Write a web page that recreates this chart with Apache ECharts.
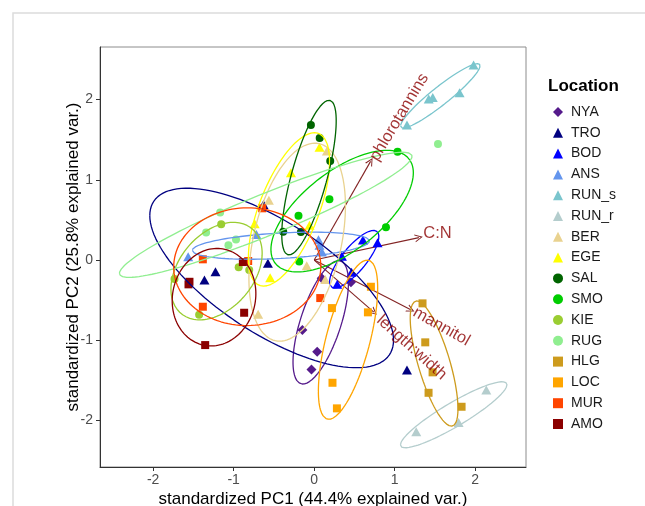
<!DOCTYPE html>
<html>
<head>
<meta charset="utf-8">
<script src="https://cdn.jsdelivr.net/npm/echarts@6/dist/echarts.min.js"></script>
<style>
  html, body { margin: 0; padding: 0; background: #fff; }
  #main { width: 645px; height: 506px; }
</style>
</head>
<body>
<div id="main"></div>
<script>
// groups, legend order
const locations = ['NYA', 'TRO', 'BOD', 'ANS', 'RUN_s', 'RUN_r', 'BER', 'EGE', 'SAL', 'SMO', 'KIE', 'RUG', 'HLG', 'LOC', 'MUR', 'AMO'];
const colors = ['#551A8B', '#000080', '#0000FF', '#6495ED', '#7AC5CD', '#B4CDCD', '#E9D28F', '#FFFF00',
                '#006400', '#00CD00', '#9ACD32', '#90EE90', '#CD9B1D', '#FFA500', '#FF4500', '#8B0000'];
const shapes = ['diamond', 'triangle', 'triangle', 'triangle', 'triangle', 'triangle', 'triangle', 'triangle',
                'circle', 'circle', 'circle', 'circle', 'rect', 'rect', 'rect', 'rect'];

// sample scores [PC1, PC2] per location
const NYA = [[0.456, -0.278], [0.093, -0.228], [-0.147, -0.873], [0.037, -1.143], [-0.034, -1.363]];
const TRO = [[-1.226, -0.146], [-1.363, -0.249], [-0.630, 0.692], [-0.575, -0.041], [1.152, -1.372]];
const BOD = [[0.605, 0.249], [0.786, 0.216], [0.344, 0.046], [0.463, -0.152], [0.286, -0.303]];
const ANS = [[-1.565, 0.041], [-0.717, 0.318], [0.053, 0.253], [0.066, 0.183], [0.096, 0.100]];
const RUN_s = [[1.979, 2.431], [1.472, 2.026], [1.422, 2.007], [1.805, 2.086], [1.152, 1.683]];
const RUN_r = [[2.137, -1.621], [1.793, -2.024], [1.267, -2.141]];
const BER = [[-0.563, 0.744], [0.158, 1.359], [-0.093, -0.071], [0.137, -0.241], [-0.696, -0.677]];
const EGE = [[0.066, 1.405], [-0.289, 1.087], [-0.739, 0.453], [-0.058, 0.433], [-0.547, -0.222]];
const SAL = [[-0.041, 1.683], [0.068, 1.521], [0.199, 1.234], [-0.385, 0.353], [-0.165, 0.349]];
const SMO = [[1.035, 1.350], [0.189, 0.758], [0.891, 0.408], [-0.195, 0.552], [-0.186, -0.019]];
const KIE = [[-1.155, 0.445], [-0.938, -0.091], [-0.807, -0.125], [-1.735, -0.237], [-1.429, -0.682]];
const RUG = [[-1.168, 0.592], [-1.342, 0.343], [-1.065, 0.183], [-0.971, 0.256], [1.537, 1.446]];
const HLG = [[1.345, -0.540], [1.379, -1.026], [1.470, -1.400], [1.420, -1.655], [1.830, -1.829]];
const LOC = [[0.704, -0.333], [0.220, -0.599], [0.667, -0.652], [0.227, -1.530], [0.282, -1.849]];
const MUR = [[-0.646, 0.645], [-1.383, 0.009], [-0.820, -0.012], [-1.383, -0.582], [0.075, -0.474]];
const AMO = [[-1.549, -0.271], [-1.561, -0.303], [-0.886, -0.025], [-0.870, -0.657], [-1.354, -1.060]];
const scores = [NYA, TRO, BOD, ANS, RUN_s, RUN_r, BER, EGE, SAL, SMO, KIE, RUG, HLG, LOC, MUR, AMO];

// variable loadings (arrows)
const varNames = ['phlorotannins', 'C:N', 'mannitol', 'length:width'];
const varPC1 = [0.70, 1.30, 1.20, 0.74];
const varPC2 = [1.23, 0.28, -0.62, -0.65];
const varLabelPC1 = [1.056, 1.53, 1.58, 1.21];
const varLabelPC2 = [1.78, 0.33, -0.83, -1.09];
const varLabelAngle = [59, 0, -29.5, -42];

const ticks = [-2, -1, 0, 1, 2];

const FONT = '"Liberation Sans", Arial, sans-serif';
const symbolSizes = { diamond: [10, 10], triangle: [10, 9], circle: 8, rect: [8, 8] };

// normal data ellipse, 68% (same as ggbiplot)
function dataEllipse(pts) {
  const n = pts.length;
  let mx = 0, my = 0;
  pts.forEach(p => { mx += p[0]; my += p[1]; });
  mx /= n; my /= n;
  let sxx = 0, syy = 0, sxy = 0;
  pts.forEach(p => {
    const dx = p[0] - mx, dy = p[1] - my;
    sxx += dx * dx; syy += dy * dy; sxy += dx * dy;
  });
  sxx /= (n - 1); syy /= (n - 1); sxy /= (n - 1);
  const r11 = Math.sqrt(sxx), r12 = sxy / r11, r22 = Math.sqrt(Math.max(syy - r12 * r12, 0));
  const ed = Math.sqrt(-2 * Math.log(1 - 0.68));
  const out = [];
  for (let i = 0; i <= 120; i++) {
    const t = -Math.PI + 2 * Math.PI * i / 120;
    const c = Math.cos(t), s = Math.sin(t);
    out.push([mx + ed * c * r11, my + ed * (c * r12 + s * r22)]);
  }
  return out;
}

const series = [];

// arrows
series.push({
  type: 'lines',
  coordinateSystem: 'cartesian2d',
  silent: true,
  z: 2,
  symbol: ['none', 'path://M5,0 L10,10 L8.6,10 L5,2.6 L1.4,10 L0,10 Z'],
  symbolSize: [9, 8],
  lineStyle: { color: '#832424', width: 1.1, opacity: 1 },
  data: varNames.map((n, i) => ({ coords: [[0, 0], [varPC1[i], varPC2[i]]] }))
});

// points
locations.forEach((loc, i) => {
  series.push({
    name: loc,
    type: 'scatter',
    z: 3,
    symbol: shapes[i],
    symbolSize: symbolSizes[shapes[i]],
    itemStyle: { color: colors[i], opacity: 1 },
    data: scores[i]
  });
});

// ellipses
locations.forEach((loc, i) => {
  series.push({
    name: loc + '_ellipse',
    type: 'line',
    z: 4,
    silent: true,
    showSymbol: false,
    clip: false,
    lineStyle: { color: colors[i], width: 1.3 },
    data: dataEllipse(scores[i])
  });
});

// variable names
series.push({
  type: 'scatter',
  z: 5,
  silent: true,
  symbolSize: 1,
  itemStyle: { color: 'rgba(0,0,0,0)' },
  data: varNames.map((n, i) => ({
    value: [varLabelPC1[i], varLabelPC2[i]],
    label: {
      show: true, formatter: n, position: 'inside', rotate: varLabelAngle[i],
      align: 'center', verticalAlign: 'middle',
      color: '#8B0000', fontSize: 16.5, fontFamily: FONT
    }
  }))
});

const axisCommon = {
  type: 'value',
  nameLocation: 'middle',
  nameMoveOverlap: false,
  nameTextStyle: { fontSize: 17, color: '#000', fontFamily: FONT },
  splitLine: { show: false },
  axisLine: { show: true, onZero: false, lineStyle: { color: '#333', width: 1 } },
  axisTick: { show: true, length: 4, customValues: ticks, lineStyle: { color: '#333' } },
  axisLabel: { customValues: ticks, fontSize: 14, color: '#4D4D4D', fontFamily: FONT }
};

const option = {
  animation: false,
  backgroundColor: '#fff',
  textStyle: { fontFamily: FONT },
  graphic: [{
    type: 'rect', silent: true,
    shape: { x: 13, y: 13, width: 700, height: 600 },
    style: { fill: 'none', stroke: '#DCDCDC', lineWidth: 1.5 }
  }],
  title: {
    text: 'Location', left: 543, top: 73,
    textStyle: { fontSize: 17, fontWeight: 'bold', color: '#000', fontFamily: FONT }
  },
  legend: {
    data: locations,
    orient: 'vertical',
    left: 548, top: 100,
    itemWidth: 10, itemHeight: 10,
    itemGap: 6.8,
    textStyle: { fontSize: 14, lineHeight: 14, color: '#1a1a1a', fontFamily: FONT, padding: [0, 0, 0, 3] }
  },
  grid: {
    left: 100, right: 119, top: 47, bottom: 39,
    outerBoundsMode: 'none',
    containLabel: false,
    show: true, borderColor: '#8C8C8C', borderWidth: 1
  },
  xAxis: Object.assign({}, axisCommon, {
    min: -2.66, max: 2.63,
    name: 'standardized PC1 (44.4% explained var.)',
    nameGap: 24,
    axisLabel: Object.assign({}, axisCommon.axisLabel, { margin: 6 })
  }),
  yAxis: Object.assign({}, axisCommon, {
    min: -2.58, max: 2.656,
    name: 'standardized PC2 (25.8% explained var.)',
    nameGap: 18,
    axisLabel: Object.assign({}, axisCommon.axisLabel, { margin: 7 })
  }),
  series: series
};

const myChart = echarts.init(document.getElementById('main'));
myChart.setOption(option);
</script>
</body>
</html>
